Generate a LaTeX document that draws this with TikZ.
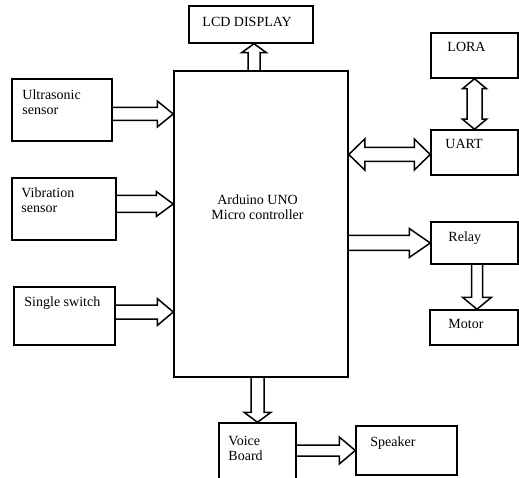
\documentclass[tikz,border=0pt]{standalone}
\usepackage{fontspec}
\setmainfont{Liberation Serif}
\usetikzlibrary{calc}

\tikzset{
  block/.style={draw, line width=1.5pt, inner sep=0pt},
  tag/.style={anchor=north west, inner sep=0pt, align=left,
    font=\fontsize{14}{15}\selectfont},
  arrowline/.style={line width=1.5pt, line join=miter}
}

% tail, tip, shaft half width, head half width, head length
\newcommand{\onearrow}[5]{%
  \draw[arrowline] ($(#1)!#3!90:(#2)$)
    -- ($(#2)!#5!(#1)!#3!-90:(#1)$)
    -- ($(#2)!#5!(#1)!#4!-90:(#1)$)
    -- (#2)
    -- ($(#2)!#5!(#1)!#4!90:(#1)$)
    -- ($(#2)!#5!(#1)!#3!90:(#1)$)
    -- ($(#1)!#3!-90:(#2)$);}

% same, heads at both ends
\newcommand{\twoarrow}[5]{%
  \draw[arrowline] (#1)
    -- ($(#1)!#5!(#2)!#4!90:(#2)$)
    -- ($(#1)!#5!(#2)!#3!90:(#2)$)
    -- ($(#2)!#5!(#1)!#3!-90:(#1)$)
    -- ($(#2)!#5!(#1)!#4!-90:(#1)$)
    -- (#2)
    -- ($(#2)!#5!(#1)!#4!90:(#1)$)
    -- ($(#2)!#5!(#1)!#3!90:(#1)$)
    -- ($(#1)!#5!(#2)!#3!-90:(#2)$)
    -- ($(#1)!#5!(#2)!#4!-90:(#2)$)
    -- cycle;}

\begin{document}
\begin{tikzpicture}[x=1pt, y=1pt]
    \useasboundingbox (0,0) rectangle (519,477);

    % controller
    \node[block, minimum width=174, minimum height=306,
      label={[align=center, font=\fontsize{14}{15}\selectfont, shift={(-3.5,17)}]center:Arduino UNO\\Micro controller}]
      (main) at (261,253) {};

    % inputs
    \node[block, minimum width=100, minimum height=62,
      label={[tag, shift={(11,-11)}]north west:Ultrasonic\\sensor}] (us) at (62,367) {};
    \node[block, minimum width=104, minimum height=62,
      label={[tag, shift={(10,-10)}]north west:Vibration\\sensor}] (vib) at (64,268) {};
    \node[block, minimum width=101, minimum height=58,
      label={[tag, shift={(11,-10)}]north west:Single switch}] (sw) at (64.5,161) {};

    % outputs
    \node[block, minimum width=124, minimum height=37,
      label={[tag, shift={(14,-12)}]north west:LCD DISPLAY}] (lcd) at (251,452.5) {};
    \node[block, minimum width=87, minimum height=45,
      label={[tag, shift={(17,-10)}]north west:LORA}] (lora) at (474.5,421.5) {};
    \node[block, minimum width=87, minimum height=45,
      label={[tag, shift={(15,-10)}]north west:UART}] (uart) at (474.5,324.5) {};
    \node[block, minimum width=87, minimum height=42,
      label={[tag, shift={(18,-10)}]north west:Relay}] (relay) at (474.5,234) {};
    \node[block, minimum width=88, minimum height=35,
      label={[tag, shift={(19,-10)}]north west:Motor}] (motor) at (474,149.5) {};
    \node[block, minimum width=77, minimum height=56,
      label={[tag, shift={(10,-14)}]north west:Voice\\Board}] (voice) at (257.5,26) {};
    \node[block, minimum width=101, minimum height=49,
      label={[tag, shift={(15,-11)}]north west:Speaker}] (spk) at (406.5,26.5) {};

    % arrows
    \coordinate (usout) at ([yshift=-4pt]us.east);
    \coordinate (vibout) at ([yshift=5pt]vib.east);
    \coordinate (swout) at ([yshift=4pt]sw.east);
    \coordinate (lcdin) at ([xshift=3pt]lcd.south);
    \coordinate (uartin) at ([yshift=-2pt]uart.west);
    \coordinate (motorin) at ([xshift=3pt]motor.north);

    \onearrow{usout}{main.west |- usout}{6.5pt}{13pt}{16pt}
    \onearrow{vibout}{main.west |- vibout}{8.5pt}{12.5pt}{17pt}
    \onearrow{swout}{main.west |- swout}{7pt}{13.5pt}{16pt}
    \onearrow{lcdin |- main.north}{lcdin}{6pt}{12.5pt}{9pt}
    \onearrow{voice.north |- main.south}{voice.north}{6.5pt}{13.5pt}{10pt}
    \onearrow{voice.east |- spk.west}{spk.west}{5.5pt}{13.5pt}{16pt}
    \twoarrow{main.east |- uartin}{uartin}{7pt}{15.5pt}{16pt}
    \onearrow{main.east |- relay.west}{relay.west}{7.5pt}{14.5pt}{21pt}
    \twoarrow{lora.south}{uart.north}{7.5pt}{12pt}{10pt}
    \onearrow{motorin |- relay.south}{motorin}{5.5pt}{14.5pt}{12pt}
\end{tikzpicture}
\end{document}
